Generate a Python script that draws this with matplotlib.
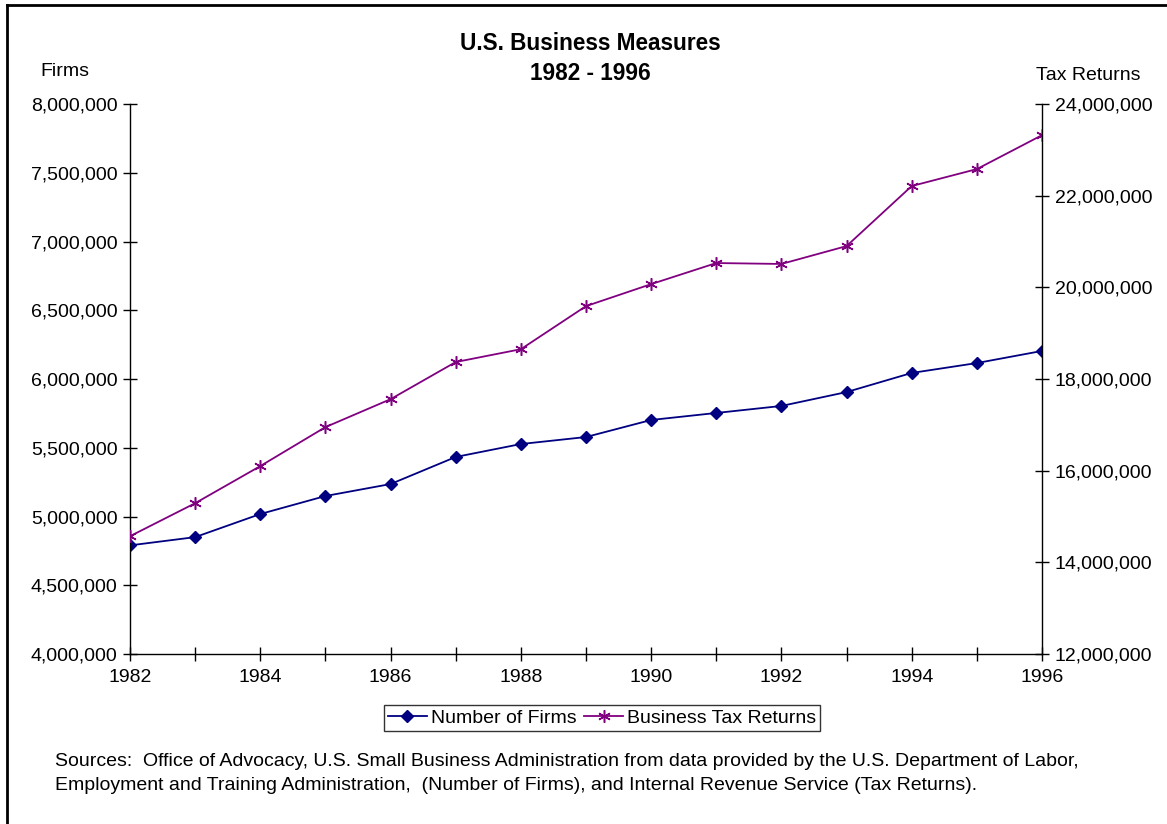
import matplotlib
matplotlib.use("Agg")
from matplotlib import pyplot as plt
from matplotlib.lines import Line2D
from matplotlib.ticker import FuncFormatter, MultipleLocator

years = list(range(1982, 1997))
firms = [4790000, 4850000, 5018000, 5149000, 5236000, 5433000, 5527000, 5578000,
         5702000, 5753000, 5804000, 5905000, 6044000, 6116000, 6204000]
tax_returns = [14570000, 15290000, 16100000, 16950000, 17560000, 18370000, 18650000,
               19590000, 20070000, 20530000, 20510000, 20900000, 22210000, 22580000, 23320000]

plt.rcParams['font.family'] = ['Liberation Sans', 'DejaVu Sans']

fig = plt.figure(figsize=(11.67, 8.24), dpi=100)
ax = fig.add_axes([130 / 1167, 1 - 654 / 824, 912 / 1167, 550 / 824])
ax2 = ax.twinx()

navy = '#000080'
purple = '#800080'

ax.plot(years, firms, color=navy, lw=1.3, marker='D', ms=6, label='Number of Firms')
ax2.plot(years, tax_returns, color=purple, lw=1.3, marker=(6, 2, 0), ms=9, mew=1.1,
         label='Business Tax Returns')

ax.set_xlim(1982, 1996)
ax.set_ylim(4000000, 8000000)
ax2.set_ylim(12000000, 24000000)

ax.set_xticks(years)
ax.set_xticklabels([str(y) if y % 2 == 0 else '' for y in years])
ax.yaxis.set_major_locator(MultipleLocator(500000))
ax2.yaxis.set_major_locator(MultipleLocator(2000000))
fmt = FuncFormatter(lambda v, p: '{:,.0f}'.format(v))
ax.yaxis.set_major_formatter(fmt)
ax2.yaxis.set_major_formatter(fmt)

for a in (ax, ax2):
    a.spines['top'].set_visible(False)
    a.tick_params(direction='inout', length=10, width=1, labelsize=14, colors='black', pad=4)
    for s in a.spines.values():
        s.set_linewidth(1)
ax.spines['right'].set_visible(False)
ax2.spines['left'].set_visible(False)
ax2.spines['bottom'].set_visible(False)
ax.tick_params(axis='x', pad=6)

fig.text(590 / 1167, 1 - 44 / 824, 'U.S. Business Measures', ha='center', va='center',
         fontsize=16.3, fontweight='bold')
fig.text(590 / 1167, 1 - 74 / 824, '1982 - 1996', ha='center', va='center',
         fontsize=16.3, fontweight='bold')
fig.text(40 / 1167, 1 - 71 / 824, 'Firms', ha='left', va='center', fontsize=14)
fig.text(1036 / 1167, 1 - 76 / 824, 'Tax Returns', ha='left', va='center', fontsize=14)

handles = [Line2D([], [], color=navy, lw=1.3, marker='D', ms=6),
           Line2D([], [], color=purple, lw=1.3, marker=(6, 2, 0), ms=9, mew=1.1)]
fig.legend(handles, ['Number of Firms', 'Business Tax Returns'], loc='center',
           bbox_to_anchor=(602 / 1167, 1 - 718 / 824), ncol=2, fontsize=14,
           frameon=True, fancybox=False, edgecolor='black', handlelength=2.0,
           handletextpad=0.2, columnspacing=0.4, borderpad=0.2, borderaxespad=0)

fig.text(55 / 1167, 1 - 762 / 824,
         'Sources:  Office of Advocacy, U.S. Small Business Administration from data provided by the U.S. Department of Labor,',
         ha='left', va='center', fontsize=14)
fig.text(55 / 1167, 1 - 786 / 824,
         'Employment and Training Administration,  (Number of Firms), and Internal Revenue Service (Tax Returns).',
         ha='left', va='center', fontsize=14)

# outer frame (left and top edges visible in the reference)
fig.add_artist(Line2D([7 / 1167, 7 / 1167], [0, 1 - 5 / 824], color='black', lw=2,
                      transform=fig.transFigure))
fig.add_artist(Line2D([7 / 1167, 1], [1 - 5 / 824, 1 - 5 / 824], color='black', lw=2,
                      transform=fig.transFigure))

fig.savefig('out.png', dpi=100)
